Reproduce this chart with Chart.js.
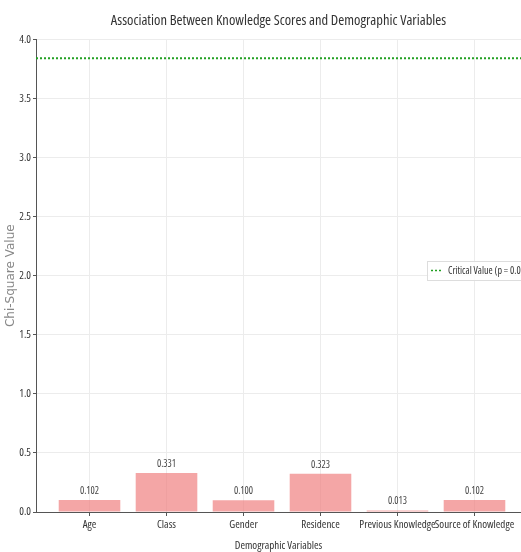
<!DOCTYPE html>
<html>
<head>
<meta charset="utf-8">
<script src="https://cdn.jsdelivr.net/npm/chart.js@4.4.1/dist/chart.umd.min.js"></script>
<style>
html,body{margin:0;padding:0;background:#fff;}
#wrap{width:521px;height:552px;position:relative;}
</style>
</head>
<body>
<div id="wrap"><canvas id="c" width="521" height="552"></canvas></div>
<script>
const categories = ["Age", "Class", "Gender", "Residence", "Previous Knowledge", "Source of Knowledge"];
const chiSquareValues = [0.102, 0.331, 0.100, 0.323, 0.013, 0.102];
const valueLabels = ["0.102", "0.331", "0.100", "0.323", "0.013", "0.102"];
const criticalValue = 3.84;
const yTicks = [0.0, 0.5, 1.0, 1.5, 2.0, 2.5, 3.0, 3.5, 4.0];

const X_MIN = -0.695, X_MAX = 5.604;
const NARROW = "'Open Sans', 'DejaVu Sans Condensed', sans-serif";
const COND = 'condensed';

const barData = categories.map((c, i) => ({x: i, y: chiSquareValues[i]}));
const lineData = [{x: X_MIN, y: criticalValue}, {x: X_MAX, y: criticalValue}];

const valueLabelPlugin = {
  id: 'valueLabels',
  afterDatasetsDraw(chart) {
    const ctx = chart.ctx;
    const meta = chart.getDatasetMeta(0);
    ctx.save();
    ctx.font = "condensed 10px " + NARROW;
    ctx.fillStyle = '#444';
    ctx.textAlign = 'center';
    ctx.textBaseline = 'bottom';
    meta.data.forEach((bar, i) => {
      ctx.fillText(valueLabels[i], bar.x, bar.y - 4);
    });
    ctx.restore();
  }
};

const legendPlugin = {
  id: 'insideLegend',
  afterDraw(chart) {
    const ctx = chart.ctx;
    const ds = chart.data.datasets[1];
    ctx.save();
    ctx.font = "condensed 10px " + NARROW;
    const text = ds.label;
    const tw = ctx.measureText(text).width;
    const bx = 427, by = 261, bh = 19;
    const bw = tw + 30;
    ctx.fillStyle = 'rgba(255,255,255,0.85)';
    ctx.strokeStyle = '#dddddd';
    ctx.lineWidth = 1;
    ctx.fillRect(bx, by, bw, bh);
    ctx.strokeRect(bx + 0.5, by + 0.5, bw, bh);
    ctx.strokeStyle = ds.borderColor;
    ctx.lineWidth = 1.5;
    ctx.setLineDash([2, 2]);
    ctx.beginPath();
    ctx.moveTo(bx + 4, by + bh / 2);
    ctx.lineTo(bx + 16, by + bh / 2);
    ctx.stroke();
    ctx.setLineDash([]);
    ctx.fillStyle = '#333';
    ctx.textBaseline = 'middle';
    ctx.fillText(text, bx + 21, by + bh / 2 + 0.5);
    ctx.restore();
  }
};

new Chart(document.getElementById('c'), {
  type: 'bar',
  data: {
    datasets: [
      {
        type: 'bar',
        label: 'Chi-Square Value',
        data: barData,
        backgroundColor: 'rgba(240,128,128,0.7)',
        borderWidth: 0,
        barPercentage: 0.8,
        categoryPercentage: 1.0,
        order: 2
      },
      {
        type: 'line',
        label: 'Critical Value (p = 0.05)',
        data: lineData,
        borderColor: '#22a022',
        borderWidth: 2,
        borderDash: [2, 2],
        pointRadius: 0,
        fill: false,
        order: 1
      }
    ]
  },
  options: {
    responsive: false,
    animation: false,
    layout: {padding: {left: 0, right: 0, top: 0, bottom: 0}},
    plugins: {
      legend: {display: false},
      tooltip: {enabled: false},
      title: {
        display: true,
        fullSize: false,
        text: 'Association Between Knowledge Scores and Demographic Variables',
        color: '#333',
        font: {family: NARROW, size: 14.5, weight: COND},
        padding: {top: 12, bottom: 10}
      }
    },
    scales: {
      x: {
        type: 'linear',
        min: X_MIN,
        max: X_MAX,
        offset: false,
        afterBuildTicks(scale) {
          scale.ticks = categories.map((c, i) => ({value: i}));
        },
        ticks: {
          autoSkip: false,
          maxRotation: 0,
          minRotation: 0,
          color: '#333',
          font: {family: NARROW, size: 11, weight: COND},
          padding: 2,
          callback: (v) => categories[v]
        },
        grid: {color: '#ececec', tickLength: 4, tickColor: '#555', offset: false},
        border: {display: true, color: '#555', width: 1},
        title: {
          display: true,
          text: 'Demographic Variables',
          color: '#333',
          font: {family: NARROW, size: 11, weight: COND},
          padding: {top: 0, bottom: 0}
        },
        afterFit(scale) { scale.height = 40; }
      },
      y: {
        min: 0,
        max: 4.0,
        afterBuildTicks(scale) {
          scale.ticks = yTicks.map(v => ({value: v}));
        },
        ticks: {
          color: '#333',
          font: {family: NARROW, size: 11, weight: COND},
          padding: 2,
          callback: (v) => v.toFixed(1)
        },
        grid: {color: '#ececec', tickLength: 3, tickColor: '#555'},
        border: {display: true, color: '#555', width: 1},
        title: {
          display: true,
          text: 'Chi-Square Value',
          color: '#888',
          font: {family: "'DejaVu Sans', sans-serif", size: 12},
          padding: {top: 4, bottom: 0}
        },
        afterFit(scale) { scale.width = 36; }
      }
    }
  },
  plugins: [valueLabelPlugin, legendPlugin]
});
</script>
</body>
</html>
